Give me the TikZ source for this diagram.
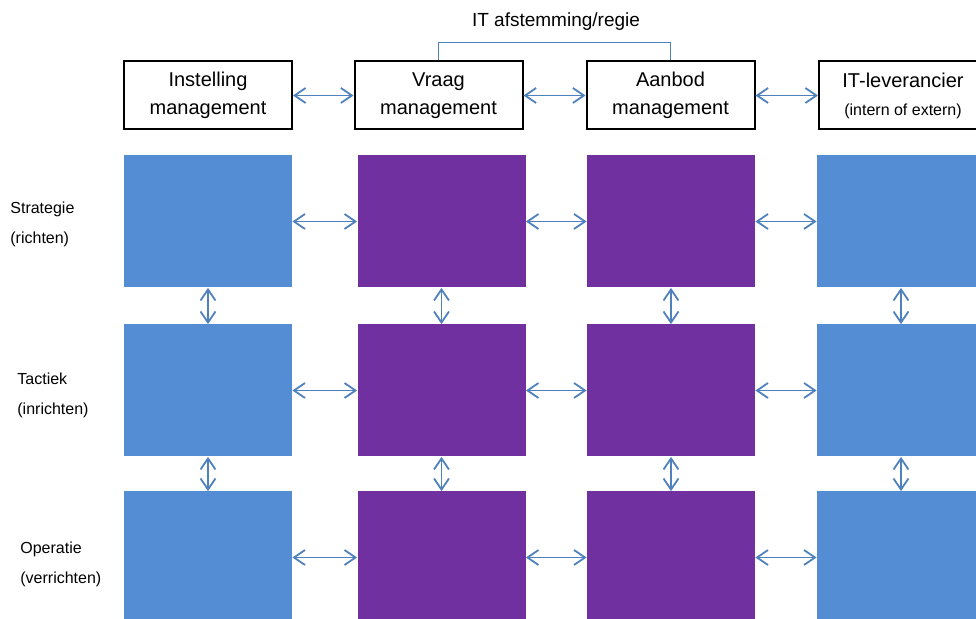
\documentclass[tikz,border=0pt]{standalone}
\usepackage{fontspec}
\setmainfont{Liberation Sans}
\usetikzlibrary{arrows.meta}

\definecolor{blauw}{RGB}{85,141,213}
\definecolor{paars}{RGB}{112,48,160}
\definecolor{pijlkleur}{RGB}{79,129,189}

\tikzset{
  kop/.style={draw=black, line width=1pt, fill=white, minimum width=84pt,
    minimum height=34pt, inner sep=0pt, align=center,
    font=\fontsize{10}{14}\selectfont},
  vlak/.style={minimum width=84pt, minimum height=66pt, inner sep=0pt},
  pijl/.style={pijlkleur, line width=0.9pt,
    {Straight Barb[length=5.5pt,width=7.5pt]}-{Straight Barb[length=5.5pt,width=7.5pt]}},
  niveau/.style={anchor=west, align=left, inner sep=0pt,
    font=\fontsize{8}{15}\selectfont}
}

\begin{document}
\begin{tikzpicture}[x=0.5pt,y=-0.5pt]
  \useasboundingbox (0,0) rectangle (976,619);
  \clip (0,0) rectangle (976,619);

  % kopjes boven de kolommen
  \node[kop] (inst) at (208,95.5) {Instelling\\management};
  \node[kop] (vraag) at (438.5,95.5) {Vraag\\management};
  \node[kop] (aanbod) at (670.5,95.5) {Aanbod\\management};
  \node[kop] (lev) at (903,95.5) {IT-leverancier\\\fontsize{8}{15}\selectfont (intern of extern)};

  % vlakken
  \foreach \x/\k [count=\i] in {208/blauw,441.5/paars,671/paars,901/blauw}
    \foreach \y [count=\r] in {221.5,390.5,557.5}
      \node[vlak, fill=\k] (v\r\i) at (\x,\y) {};

  % niveaus links
  \node[niveau] (strat) at (10,224) {Strategie\\(richten)};
  \node[niveau] (takt) at (17,395.5) {Tactiek\\(inrichten)};
  \node[niveau] (oper) at (20,564) {Operatie\\(verrichten)};

  % pijlen
  \draw[pijl] (inst) -- (vraag);
  \draw[pijl] (vraag) -- (aanbod);
  \draw[pijl] (aanbod) -- (lev);
  \foreach \r in {1,2,3} {
    \draw[pijl] (v\r1) -- (v\r2);
    \draw[pijl] (v\r2) -- (v\r3);
    \draw[pijl] (v\r3) -- (v\r4);
  }
  \foreach \i in {1,...,4} {
    \draw[pijl] (v1\i) -- (v2\i);
    \draw[pijl] (v2\i) -- (v3\i);
  }

  % regie
  \node[font=\fontsize{9.5}{11}\selectfont] (regie) at (556,22) {IT afstemming/regie};
  \draw[pijlkleur, line width=0.9pt] (vraag.north) -- ++(0,-18) -| (aanbod.north);
\end{tikzpicture}
\end{document}
